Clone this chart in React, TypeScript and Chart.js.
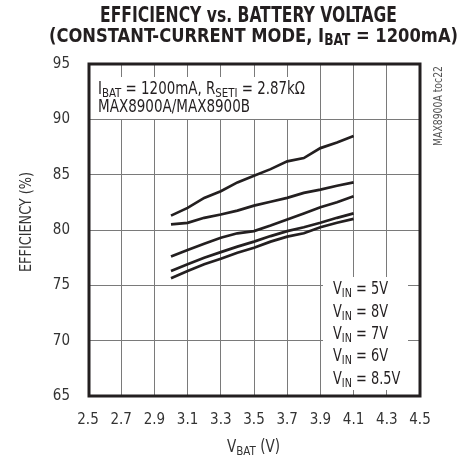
import React, { useEffect, useRef } from 'react';
import { Chart, registerables } from 'chart.js';

Chart.register(...registerables);

// ---- data ----
const VBAT = [3.0, 3.1, 3.2, 3.3, 3.4, 3.5, 3.6, 3.7, 3.8, 3.9, 4.0, 4.1];
const EFF_VIN_5V = [81.3, 82.0, 82.9, 83.5, 84.3, 84.9, 85.5, 86.2, 86.5, 87.4, 87.9, 88.5];
const EFF_VIN_8V = [80.5, 80.65, 81.1, 81.4, 81.75, 82.2, 82.55, 82.9, 83.35, 83.65, 84.0, 84.3];
const EFF_VIN_7V = [77.6, 78.2, 78.75, 79.3, 79.7, 79.9, 80.4, 80.95, 81.5, 82.05, 82.5, 83.05];
const EFF_VIN_6V = [76.3, 76.9, 77.5, 78.0, 78.5, 78.95, 79.45, 79.9, 80.25, 80.65, 81.1, 81.5];
const EFF_VIN_8V5 = [75.65, 76.3, 76.9, 77.4, 77.95, 78.4, 78.95, 79.4, 79.7, 80.25, 80.65, 81.0];
const SERIES = [EFF_VIN_5V, EFF_VIN_8V, EFF_VIN_7V, EFF_VIN_6V, EFF_VIN_8V5];
const VIN_LABELS = ['5V', '8V', '7V', '6V', '8.5V'];
const X_TICKS = [2.5, 2.7, 2.9, 3.1, 3.3, 3.5, 3.7, 3.9, 4.1, 4.3, 4.5];
const Y_TICKS = [65, 70, 75, 80, 85, 90, 95];

const FONT = '"Liberation Sans Narrow", "DejaVu Sans Condensed", "Liberation Sans", Arial, sans-serif';
const INK = '#231f20';

type Part = { t: string; sub?: boolean };

function measureRich(ctx: CanvasRenderingContext2D, parts: Part[], size: number, subSize: number, weight: string) {
  return parts.map((p) => {
    ctx.font = `${weight} ${p.sub ? subSize : size}px ${FONT}`;
    return ctx.measureText(p.t).width;
  });
}

// Draws text with subscripts; hScale condenses the text horizontally.
function drawRich(
  ctx: CanvasRenderingContext2D,
  parts: Part[],
  x: number,
  y: number,
  align: 'left' | 'center',
  size: number,
  subSize: number,
  subDrop: number,
  weight: string,
  color: string,
  targetW?: number,
  hScale?: number
) {
  const widths = measureRich(ctx, parts, size, subSize, weight);
  const total = widths.reduce((a, b) => a + b, 0);
  const s = targetW ? targetW / total : hScale || 1;
  const drawnW = total * s;
  const startX = align === 'center' ? x - drawnW / 2 : x;
  ctx.save();
  ctx.translate(startX, y);
  ctx.scale(s, 1);
  ctx.fillStyle = color;
  ctx.textAlign = 'left';
  ctx.textBaseline = 'alphabetic';
  let cx = 0;
  parts.forEach((p, i) => {
    ctx.font = `${weight} ${p.sub ? subSize : size}px ${FONT}`;
    ctx.fillText(p.t, cx, p.sub ? subDrop : 0);
    cx += widths[i];
  });
  ctx.restore();
}

const decorPlugin = {
  id: 'decor',
  afterDatasetsDraw(chart: any) {
    const ctx: CanvasRenderingContext2D = chart.ctx;
    const { left, right, top, bottom } = chart.chartArea;
    ctx.save();
    // white boxes behind annotations
    ctx.fillStyle = '#ffffff';
    ctx.fillRect(left + 2, 77, 314 - left - 2, 42);
    ctx.fillRect(323, 277, 85, 113);

    // annotation text
    drawRich(
      ctx,
      [
        { t: 'I' },
        { t: 'BAT', sub: true },
        { t: ' = 1200mA, R' },
        { t: 'SETI', sub: true },
        { t: ' = 2.87k\u03A9' },
      ],
      98,
      93.5,
      'left',
      17,
      13,
      3,
      'normal',
      INK,
      207
    );
    drawRich(ctx, [{ t: 'MAX8900A/MAX8900B' }], 98, 112, 'left', 17, 13, 3, 'normal', INK, 152);

    // VIN legend
    const legParts = (lab: string): Part[] => [{ t: 'V' }, { t: 'IN', sub: true }, { t: ' = ' + lab }];
    const w0 = measureRich(ctx, legParts(VIN_LABELS[0]), 17.5, 13, 'normal').reduce((a, b) => a + b, 0);
    const legScale = 55 / w0;
    const baselines = [294, 316.5, 338.5, 361, 383.5];
    VIN_LABELS.forEach((lab, i) => {
      drawRich(ctx, legParts(lab), 333, baselines[i], 'left', 17.5, 13, 3, 'normal', INK, undefined, legScale);
    });

    // frame
    ctx.strokeStyle = INK;
    ctx.lineWidth = 3;
    ctx.strokeRect(left + 1, top, right - left - 1, bottom - top);

    // title
    drawRich(ctx, [{ t: 'EFFICIENCY vs. BATTERY VOLTAGE' }], 248.5, 22, 'center', 20.5, 15, 3, 'bold', INK, 297);
    drawRich(
      ctx,
      [{ t: '(CONSTANT-CURRENT MODE, I' }, { t: 'BAT', sub: true }, { t: ' = 1200mA)' }],
      253.5,
      42,
      'center',
      20,
      15,
      3,
      'bold',
      INK,
      409
    );

    // x-axis title
    drawRich(ctx, [{ t: 'V' }, { t: 'BAT', sub: true }, { t: ' (V)' }], 253.5, 452, 'center', 17, 13, 3, 'normal', '#333', 53);

    // y-axis title (rotated)
    ctx.save();
    ctx.translate(25, 222);
    ctx.rotate(-Math.PI / 2);
    drawRich(ctx, [{ t: 'EFFICIENCY (%)' }], 0, 5.5, 'center', 15, 11, 3, 'normal', '#333', 100);
    ctx.restore();

    // side code
    ctx.save();
    ctx.translate(442, 146);
    ctx.rotate(-Math.PI / 2);
    drawRich(ctx, [{ t: 'MAX8900A toc22' }], 0, 0, 'left', 12, 9, 2, 'normal', '#555', 80);
    ctx.restore();

    ctx.restore();
  },
};

export default function App() {
  const ref = useRef<HTMLCanvasElement>(null);
  useEffect(() => {
    if (!ref.current) return;
    const chart = new Chart(ref.current, {
      type: 'line',
      data: {
        datasets: SERIES.map((s, k) => ({
          label: 'VIN = ' + VIN_LABELS[k],
          data: VBAT.map((x, i) => ({ x, y: s[i] })),
          borderColor: INK,
          borderWidth: 2.7,
          pointRadius: 0,
          tension: 0,
          fill: false,
        })),
      },
      options: {
        responsive: false,
        animation: false,
        devicePixelRatio: 1,
        layout: { padding: { top: 64, right: 41, bottom: 0, left: 0 } },
        plugins: {
          legend: { display: false },
          title: { display: false },
          tooltip: { enabled: false },
        },
        scales: {
          x: {
            type: 'linear',
            min: 2.5,
            max: 4.5,
            afterBuildTicks: (scale: any) => {
              scale.ticks = X_TICKS.map((v) => ({ value: v }));
            },
            afterFit: (scale: any) => {
              scale.height = 62;
            },
            grid: { color: '#7a7a7a', lineWidth: 1, drawTicks: false },
            border: { display: false },
            ticks: {
              padding: 15,
              color: '#333',
              font: { family: FONT, size: 15 },
              maxRotation: 0,
              autoSkip: false,
              callback: (v: any) => Number(v).toFixed(1),
            },
          },
          y: {
            type: 'linear',
            min: 65,
            max: 95,
            afterBuildTicks: (scale: any) => {
              scale.ticks = Y_TICKS.map((v) => ({ value: v }));
            },
            afterFit: (scale: any) => {
              scale.width = 88;
            },
            grid: { color: '#7a7a7a', lineWidth: 1, drawTicks: false },
            border: { display: false },
            ticks: {
              padding: 18,
              color: '#333',
              font: { family: FONT, size: 15 },
              autoSkip: false,
              callback: (v: any) => String(v),
            },
          },
        },
      },
      plugins: [decorPlugin],
    });
    return () => chart.destroy();
  }, []);
  return (
    <div style={{ position: 'absolute', left: 0, top: 0, width: 461, height: 458, background: '#fff' }}>
      <canvas ref={ref} width={461} height={458} style={{ display: 'block', width: 461, height: 458 }} />
    </div>
  );
}
